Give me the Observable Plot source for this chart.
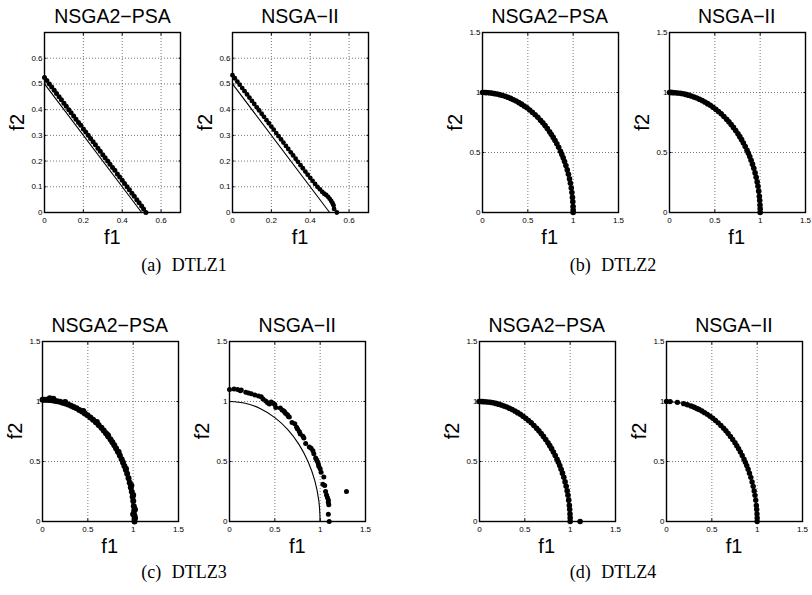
<!DOCTYPE html>
<html><head><meta charset="utf-8">
<script src="https://cdn.jsdelivr.net/npm/d3@7"></script>
<script src="https://cdn.jsdelivr.net/npm/@observablehq/plot@0.6"></script>
<style>
html,body{margin:0;padding:0;background:#fff;}
#fig{position:relative;width:812px;height:595px;overflow:hidden;background:#fff;}
#fig > svg{position:absolute;margin:0;}
</style></head><body><div id="fig"></div>
<script>
// ---------- data ----------
const panelTitles = ["NSGA2\u2212PSA", "NSGA\u2212II"];
const captions = ["(a) DTLZ1", "(b) DTLZ2", "(c) DTLZ3", "(d) DTLZ4"];
const xLabel = "f1";
const yLabel = "f2";

const dtlz1Domain = [0, 0.7];
const dtlz1XTicks = [0, 0.2, 0.4, 0.6];
const dtlz1YTicks = [0, 0.1, 0.2, 0.3, 0.4, 0.5, 0.6];
const dtlzDomain = [0, 1.5];
const dtlzTicks = [0, 0.5, 1, 1.5];

// true Pareto fronts
const linearFront = [[0, 0.5], [0.5, 0]];
const sphereFront = [[0,1],[0.174,0.985],[0.342,0.94],[0.5,0.866],[0.643,0.766],[0.766,0.643],[0.866,0.5],[0.94,0.342],[0.985,0.174],[1,0]];

// obtained fronts
const dtlz1Psa = [[0,0.525],[0.012,0.513],[0.025,0.5],[0.037,0.488],[0.05,0.475],[0.062,0.463],[0.075,0.45],[0.087,0.438],[0.1,0.425],[0.112,0.413],[0.125,0.4],[0.137,0.388],[0.15,0.375],[0.162,0.363],[0.175,0.35],[0.187,0.339],[0.2,0.325],[0.212,0.313],[0.225,0.3],[0.237,0.288],[0.25,0.275],[0.262,0.263],[0.275,0.25],[0.287,0.238],[0.3,0.225],[0.312,0.213],[0.325,0.2],[0.337,0.188],[0.35,0.175],[0.362,0.164],[0.375,0.15],[0.387,0.138],[0.4,0.125],[0.412,0.113],[0.425,0.1],[0.437,0.088],[0.45,0.075],[0.462,0.063],[0.475,0.05],[0.487,0.038],[0.5,0.025],[0.51,0.014],[0.522,0]];
const dtlz1Nsga = [[0,0.534],[0.012,0.522],[0.025,0.509],[0.037,0.497],[0.05,0.484],[0.062,0.472],[0.075,0.459],[0.087,0.447],[0.1,0.434],[0.112,0.422],[0.125,0.409],[0.137,0.397],[0.15,0.384],[0.162,0.372],[0.175,0.359],[0.187,0.347],[0.2,0.334],[0.212,0.322],[0.225,0.309],[0.237,0.297],[0.25,0.284],[0.262,0.272],[0.275,0.259],[0.287,0.247],[0.3,0.234],[0.312,0.222],[0.325,0.209],[0.337,0.197],[0.35,0.184],[0.362,0.172],[0.375,0.159],[0.387,0.147],[0.4,0.135],[0.412,0.123],[0.425,0.111],[0.437,0.1],[0.45,0.09],[0.462,0.08],[0.472,0.073],[0.482,0.068],[0.492,0.061],[0.5,0.053],[0.508,0.045],[0.515,0.036],[0.52,0.028],[0.523,0.014],[0.537,0]];
const dtlz2Psa = [[0,1],[0.02,1],[0.04,0.999],[0.07,0.997],[0.1,0.995],[0.13,0.991],[0.16,0.987],[0.19,0.982],[0.22,0.975],[0.25,0.968],[0.28,0.96],[0.31,0.951],[0.34,0.94],[0.37,0.929],[0.4,0.916],[0.43,0.903],[0.46,0.888],[0.49,0.872],[0.52,0.854],[0.55,0.835],[0.58,0.815],[0.61,0.793],[0.64,0.769],[0.665,0.747],[0.69,0.724],[0.715,0.699],[0.74,0.673],[0.76,0.65],[0.78,0.626],[0.8,0.6],[0.82,0.572],[0.84,0.543],[0.86,0.51],[0.875,0.484],[0.89,0.456],[0.905,0.425],[0.92,0.392],[0.935,0.355],[0.948,0.318],[0.96,0.28],[0.97,0.243],[0.979,0.204],[0.986,0.167],[0.992,0.126],[0.996,0.089],[0.999,0.05],[1,0.02],[1,0]];
const dtlz2Nsga = [[0,1],[0.015,1.001],[0.035,0.999],[0.06,0.998],[0.09,0.996],[0.12,0.993],[0.15,0.989],[0.18,0.984],[0.21,0.978],[0.24,0.971],[0.27,0.963],[0.3,0.954],[0.33,0.944],[0.36,0.933],[0.39,0.921],[0.42,0.907],[0.45,0.893],[0.48,0.877],[0.51,0.86],[0.54,0.842],[0.57,0.822],[0.6,0.8],[0.63,0.777],[0.655,0.756],[0.68,0.733],[0.705,0.709],[0.73,0.683],[0.755,0.656],[0.775,0.632],[0.795,0.607],[0.815,0.579],[0.835,0.55],[0.855,0.519],[0.87,0.493],[0.885,0.466],[0.9,0.436],[0.915,0.403],[0.93,0.368],[0.944,0.33],[0.956,0.293],[0.967,0.255],[0.976,0.218],[0.984,0.178],[0.991,0.134],[0.995,0.1],[0.998,0.063],[1,0.03],[1,0]];
const dtlz3Psa = [[0,1.015],[0.02,1.015],[0.041,1.014],[0.071,1.012],[0.08,1.028],[0.102,1.01],[0.12,1.022],[0.132,1.006],[0.162,1.002],[0.193,0.997],[0.223,0.99],[0.25,0.995],[0.254,0.983],[0.284,0.974],[0.315,0.965],[0.345,0.954],[0.376,0.943],[0.406,0.93],[0.436,0.917],[0.45,0.92],[0.467,0.901],[0.497,0.885],[0.528,0.867],[0.558,0.848],[0.589,0.827],[0.6,0.83],[0.619,0.805],[0.65,0.781],[0.675,0.758],[0.7,0.735],[0.72,0.72],[0.726,0.709],[0.751,0.683],[0.771,0.66],[0.792,0.635],[0.812,0.609],[0.832,0.581],[0.84,0.58],[0.853,0.551],[0.873,0.518],[0.888,0.491],[0.903,0.463],[0.919,0.431],[0.92,0.44],[0.934,0.398],[0.949,0.36],[0.962,0.323],[0.974,0.284],[0.98,0.3],[0.985,0.247],[0.994,0.207],[1,0.22],[1.001,0.17],[1.007,0.128],[1.011,0.09],[1.02,0.1],[1.014,0.051],[1,0.06],[1.02,0.03],[1.015,0.02],[1.015,0]];
const dtlz3Nsga = [[0,1.1],[0.05,1.105],[0.09,1.1],[0.12,1.09],[0.13,1.095],[0.18,1.078],[0.21,1.07],[0.24,1.065],[0.28,1.055],[0.32,1.045],[0.35,1.04],[0.37,1.02],[0.4,1.005],[0.42,0.99],[0.44,0.98],[0.46,0.995],[0.48,0.985],[0.5,0.975],[0.51,0.95],[0.56,0.945],[0.58,0.93],[0.6,0.92],[0.61,0.91],[0.62,0.9],[0.64,0.89],[0.65,0.875],[0.66,0.87],[0.69,0.825],[0.72,0.815],[0.74,0.785],[0.75,0.77],[0.77,0.75],[0.78,0.73],[0.81,0.71],[0.82,0.695],[0.84,0.65],[0.88,0.62],[0.9,0.61],[0.92,0.59],[0.93,0.565],[0.95,0.53],[0.96,0.515],[0.97,0.5],[0.98,0.48],[0.985,0.46],[1,0.44],[1.01,0.41],[1.03,0.31],[1.04,0.37],[1.05,0.3],[1.06,0.25],[1.07,0.22],[1.08,0.2],[1.09,0.18],[1.09,0.16],[1.095,0.14],[1.09,0.06],[1.1,0],[1.29,0.25]];
const dtlz4Psa = [[-0.005,1],[0.015,1],[0.035,0.999],[0.06,0.998],[0.09,0.996],[0.12,0.993],[0.15,0.989],[0.18,0.984],[0.21,0.978],[0.24,0.971],[0.27,0.963],[0.3,0.954],[0.33,0.944],[0.36,0.933],[0.39,0.921],[0.42,0.907],[0.45,0.893],[0.48,0.877],[0.51,0.86],[0.54,0.842],[0.57,0.822],[0.6,0.8],[0.63,0.777],[0.655,0.756],[0.68,0.733],[0.705,0.709],[0.73,0.683],[0.755,0.656],[0.775,0.632],[0.795,0.607],[0.815,0.579],[0.835,0.55],[0.855,0.519],[0.87,0.493],[0.885,0.466],[0.9,0.436],[0.915,0.403],[0.93,0.368],[0.944,0.33],[0.956,0.293],[0.967,0.255],[0.976,0.218],[0.984,0.178],[0.991,0.134],[0.995,0.1],[0.998,0.063],[1,0.03],[1,0],[1.11,0]];
const dtlz4Nsga = [[0,1],[0.04,0.999],[0.12,0.993],[0.19,0.982],[0.23,0.973],[0.27,0.963],[0.3,0.954],[0.32,0.947],[0.34,0.94],[0.36,0.933],[0.39,0.921],[0.42,0.907],[0.45,0.893],[0.48,0.877],[0.51,0.86],[0.54,0.842],[0.57,0.822],[0.6,0.8],[0.63,0.777],[0.655,0.756],[0.68,0.733],[0.705,0.709],[0.73,0.683],[0.755,0.656],[0.775,0.632],[0.795,0.607],[0.815,0.579],[0.835,0.55],[0.855,0.519],[0.87,0.493],[0.885,0.466],[0.9,0.436],[0.915,0.403],[0.93,0.368],[0.944,0.33],[0.956,0.293],[0.967,0.255],[0.976,0.218],[0.984,0.178],[0.991,0.134],[0.995,0.1],[0.998,0.063],[1,0.03],[1,0]];

// ---------- layout ----------
const FW = 136, FH = 180;            // frame size
const ML = 40, MR = 10, MT = 10, MB = 30;
const panels = [
  {left: 44.4, top: 32.3, title: 0, domain: dtlz1Domain, xt: dtlz1XTicks, yt: dtlz1YTicks, front: linearFront, curve: "linear", pts: dtlz1Psa, r: 2.5},
  {left: 232,  top: 32.3, title: 1, domain: dtlz1Domain, xt: dtlz1XTicks, yt: dtlz1YTicks, front: linearFront, curve: "linear", pts: dtlz1Nsga, r: 2.4},
  {left: 481.7,top: 32.3, title: 0, domain: dtlzDomain, xt: dtlzTicks, yt: dtlzTicks, front: sphereFront, curve: "catmull-rom", pts: dtlz2Psa, r: 2.8},
  {left: 668.7,top: 32.3, title: 1, domain: dtlzDomain, xt: dtlzTicks, yt: dtlzTicks, front: sphereFront, curve: "catmull-rom", pts: dtlz2Nsga, r: 2.8},
  {left: 41.7, top: 341, title: 0, domain: dtlzDomain, xt: dtlzTicks, yt: dtlzTicks, front: sphereFront, curve: "catmull-rom", pts: dtlz3Psa, r: 3.0},
  {left: 229.3,top: 341, title: 1, domain: dtlzDomain, xt: dtlzTicks, yt: dtlzTicks, front: sphereFront, curve: "catmull-rom", pts: dtlz3Nsga, r: 2.5},
  {left: 478.7,top: 341, title: 0, domain: dtlzDomain, xt: dtlzTicks, yt: dtlzTicks, front: sphereFront, curve: "catmull-rom", pts: dtlz4Psa, r: 2.8},
  {left: 666,  top: 341, title: 1, domain: dtlzDomain, xt: dtlzTicks, yt: dtlzTicks, front: sphereFront, curve: "catmull-rom", pts: dtlz4Nsga, r: 2.7}
];
const captionPos = [[184, 271], [613, 271], [184, 578], [613, 578]];

const fig = document.getElementById("fig");
const sans = "'Liberation Sans', Arial, Helvetica, sans-serif";
const fmt = d => String(d);

for (const p of panels) {
  const svg = Plot.plot({
    width: FW + ML + MR, height: FH + MT + MB,
    marginLeft: ML, marginRight: MR, marginTop: MT, marginBottom: MB,
    x: {domain: p.domain}, y: {domain: p.domain},
    style: {fontFamily: sans, fontSize: "8px", color: "black", background: "transparent", overflow: "visible"},
    marks: [
      Plot.gridX(p.xt, {stroke: "#555", strokeOpacity: 1, strokeWidth: 0.8, strokeDasharray: "1,2"}),
      Plot.gridY(p.yt, {stroke: "#555", strokeOpacity: 1, strokeWidth: 0.8, strokeDasharray: "1,2"}),
      Plot.axisX(p.xt, {anchor: "bottom", tickSize: 0, tickPadding: 5, tickFormat: fmt, label: null}),
      Plot.axisY(p.yt, {anchor: "left", tickSize: 0, tickPadding: 2, tickFormat: fmt, label: null}),
      Plot.axisX(p.xt, {anchor: "bottom", tickSize: -2.5, fill: "none", label: null}),
      Plot.axisX(p.xt, {anchor: "top", tickSize: -2.5, fill: "none", label: null}),
      Plot.axisY(p.yt, {anchor: "left", tickSize: -2.5, fill: "none", label: null}),
      Plot.axisY(p.yt, {anchor: "right", tickSize: -2.5, fill: "none", label: null}),
      Plot.line(p.front, {x: d => d[0], y: d => d[1], stroke: "black", strokeWidth: 1.1, curve: p.curve}),
      Plot.dot(p.pts, {x: d => d[0], y: d => d[1], r: p.r, fill: "black", stroke: "none"}),
      Plot.frame({stroke: "black", strokeWidth: 1.4})
    ]
  });
  svg.style.left = (p.left - ML) + "px";
  svg.style.top = (p.top - MT) + "px";
  fig.appendChild(svg);
}

// text overlay: titles, axis labels, captions
const overlay = d3.create("svg").attr("width", 812).attr("height", 595)
  .style("position", "absolute").style("left", "0px").style("top", "0px").style("pointer-events", "none");
for (const p of panels) {
  const cx = p.left + FW / 2, cy = p.top + FH / 2;
  overlay.append("text").attr("x", cx).attr("y", p.top - 9).attr("text-anchor", "middle")
    .attr("font-family", sans).attr("font-size", 19.5).text(panelTitles[p.title]);
  overlay.append("text").attr("x", cx).attr("y", p.top + FH + 32).attr("text-anchor", "middle")
    .attr("font-family", sans).attr("font-size", 20).text(xLabel);
  overlay.append("text").attr("transform", `translate(${p.left - 20},${cy}) rotate(-90)`).attr("text-anchor", "middle")
    .attr("font-family", sans).attr("font-size", 20).text(yLabel);
}
captions.forEach((c, i) => {
  overlay.append("text").attr("x", captionPos[i][0]).attr("y", captionPos[i][1]).attr("text-anchor", "middle")
    .attr("font-family", "'Liberation Serif', 'Times New Roman', serif").attr("font-size", 18)
    .attr("word-spacing", 6).text(c);
});
fig.appendChild(overlay.node());
</script></body></html>
